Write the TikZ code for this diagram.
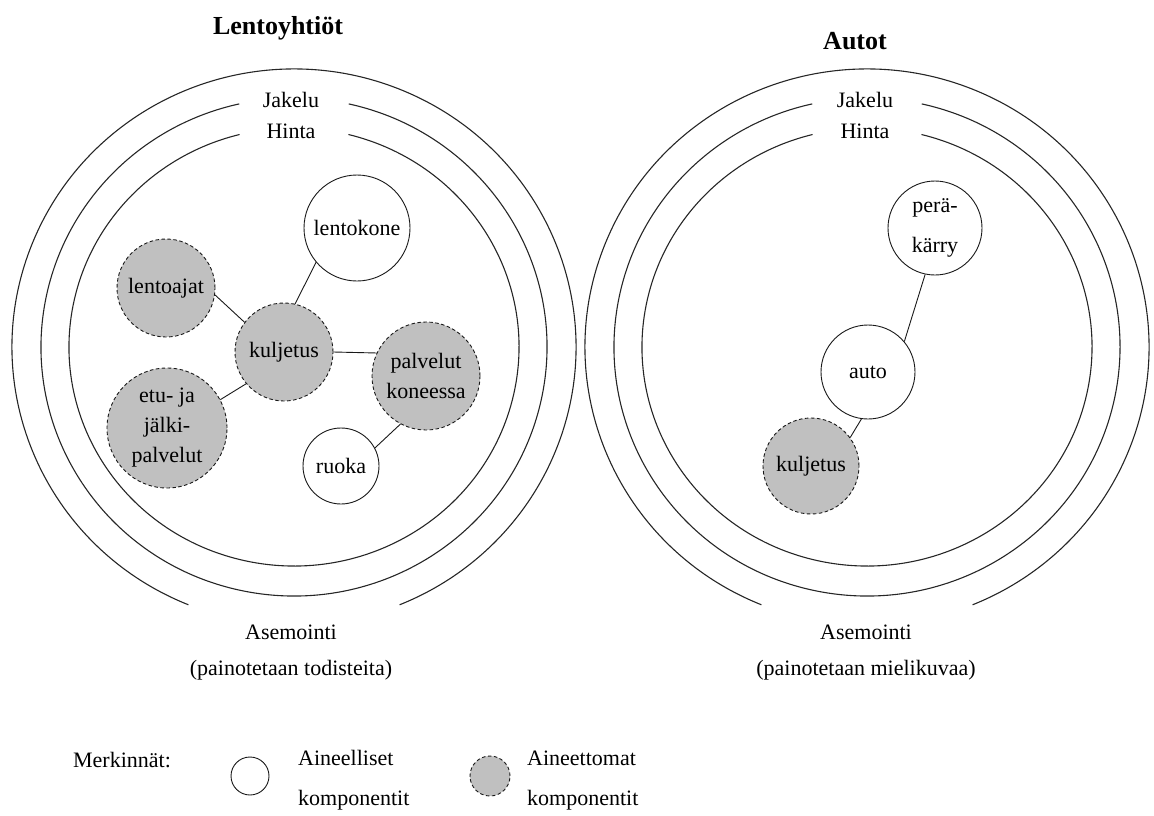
\documentclass[tikz,border=0pt]{standalone}
\usepackage{fontspec}
\setmainfont{Liberation Serif}
\begin{document}
\begin{tikzpicture}[x=1pt,y=-1pt,
  ring/.style={line width=1.1pt, draw=black!85},
  matc/.style={circle, draw=black!90, line width=0.9pt, fill=white, inner sep=0pt, align=center,
    font=\fontsize{22}{30}\selectfont},
  immc/.style={circle, draw=black!90, dash pattern=on 3.5pt off 2.5pt, line width=0.9pt,
    fill=gray75, inner sep=0pt, align=center, font=\fontsize{22}{30}\selectfont},
  link/.style={line width=0.9pt, draw=black!90},
  lbl/.style={font=\fontsize{22}{26}\selectfont, inner sep=0pt, anchor=base},
  ttl/.style={font=\bfseries\fontsize{26}{30}\selectfont, inner sep=0pt, anchor=base},
  ringset/.pic={
    \draw[ring] (112:282 and 278) arc[start angle=112, end angle=428, x radius=282, y radius=278];
    \draw[ring] (282.5:253 and 249) arc[start angle=282.5, end angle=617.5, x radius=253, y radius=249];
    \draw[ring] (284:225 and 219) arc[start angle=284, end angle=616, x radius=225, y radius=219];
  },
]
\definecolor{gray75}{RGB}{192,192,192}
\useasboundingbox (0,0) rectangle (1154,816);

% ---------- left: airlines ----------
\pic at (294,347) {ringset};
\node[ttl] (t1) at (278,35) {Lentoyhtiöt};
\node[lbl] (jak1) at (291,107) {Jakelu};
\node[lbl] (hin1) at (291,138) {Hinta};
\node[lbl] (ase1) at (291,639) {Asemointi};
\node[lbl] (pai1) at (291,675) {(painotetaan todisteita)};

\node[matc, minimum size=106pt] (lentokone) at (357,228) {lentokone};
\node[immc, minimum size=98pt] (lentoajat) at (166,288) {lentoajat};
\node[immc, minimum size=98pt] (kulj1) at (284,352) {kuljetus};
\node[immc, minimum size=108pt] (palvelut) at (426,376) {palvelut\\koneessa};
\node[immc, minimum size=120pt] (etu) at (167,428) {etu- ja\\jälki-\\palvelut};
\node[matc, minimum size=76pt] (ruoka) at (341,466) {ruoka};

\draw[link] (lentokone.220) -- (kulj1.77);
\draw[link] (lentoajat.352) -- (kulj1.143);
\draw[link] (kulj1.east) -- (palvelut.155);
\draw[link] (etu.28) -- (kulj1.220);
\draw[link] (palvelut.242) -- (ruoka.28);

% ---------- right: cars ----------
\pic at (867,347) {ringset};
\node[ttl] (t2) at (855,50) {Autot};
\node[lbl] (jak2) at (865,107) {Jakelu};
\node[lbl] (hin2) at (865,138) {Hinta};
\node[lbl] (ase2) at (866,639) {Asemointi};
\node[lbl] (pai2) at (866,675) {(painotetaan mielikuvaa)};

\node[matc, minimum size=94pt, font=\fontsize{22}{40}\selectfont] (peraka) at (935,228) {perä-\\kärry};
\node[matc, minimum size=94pt] (auto) at (868,372) {auto};
\node[immc, minimum size=96pt] (kulj2) at (811,466) {kuljetus};

\draw[link] (peraka.258) -- (auto.40);
\draw[link] (auto.262) -- (kulj2.36);

% ---------- legend ----------
\node[lbl] (merk) at (122,767) {Merkinnät:};
\node[matc, minimum size=38pt] (lgm) at (250,776) {};
\node[immc, minimum size=40pt] (lgi) at (490,776) {};
\node[lbl, anchor=base west] (lgm1) at (298,765) {Aineelliset};
\node[lbl, anchor=base west] (lgm2) at (298,805) {komponentit};
\node[lbl, anchor=base west] (lgi1) at (527,765) {Aineettomat};
\node[lbl, anchor=base west] (lgi2) at (527,805) {komponentit};
\end{tikzpicture}
\end{document}
